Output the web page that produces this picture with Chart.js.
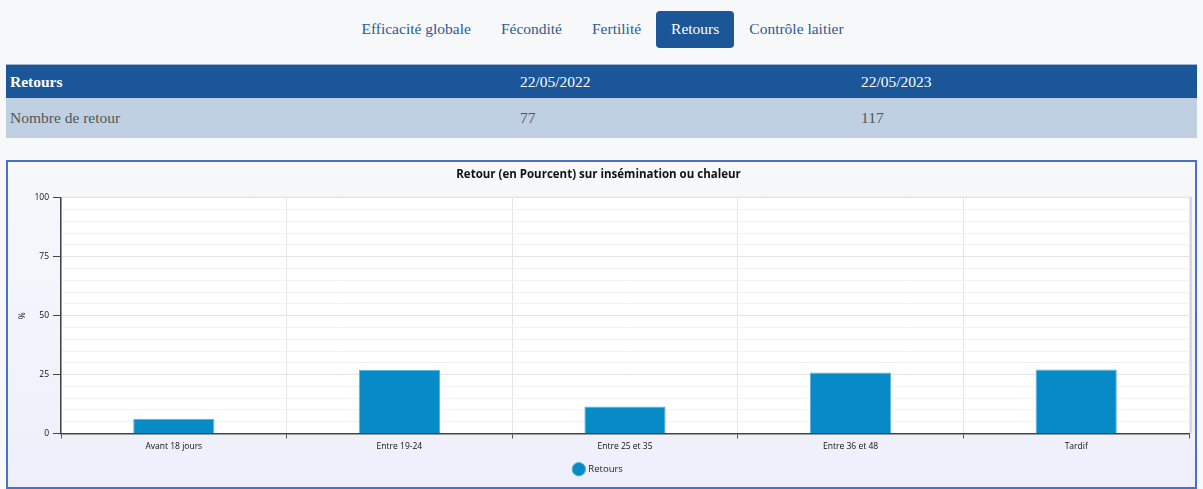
<!DOCTYPE html>
<html lang="fr">
<head>
<meta charset="utf-8">
<script src="https://cdn.jsdelivr.net/npm/chart.js@4.4.0/dist/chart.umd.min.js"></script>
<style>
    body {
        margin: 0;
        background: #f7f8fa;
        font-family: 'Liberation Serif', 'Times New Roman', serif;
        width: 1203px;
        height: 489px;
        overflow: hidden;
        position: relative;
    }
    .tabs {
        position: absolute;
        top: 11px;
        left: 1px;
        width: 1203px;
        text-align: center;
        font-size: 15.5px;
    }
    .tabs span {
        display: inline-block;
        padding: 0 15px;
        height: 37px;
        line-height: 36px;
        color: #2a5a95;
        border-radius: 4px;
    }
    .tabs span.active {
        background: #1a5698;
        color: #fff;
    }
    table {
        position: absolute;
        left: 6px;
        top: 64px;
        width: 1191px;
        border-collapse: collapse;
        font-size: 15.5px;
    }
    th, td {
        text-align: left;
        padding: 0 4px;
    }
    th {
        background: #1a5698;
        color: #fff;
        height: 33px;
        font-weight: normal;
        border-top: 1px solid #9fb4cf;
    }
    th.first { font-weight: bold; }
    td {
        background: #c0d0e3;
        color: #555;
        height: 40px;
    }
    .chart-box {
        position: absolute;
        left: 6px;
        top: 160px;
        width: 1187px;
        height: 325px;
        border: 2px solid #4a6fc4;
        background: linear-gradient(#f7f8fb, #efeffb);
    }
    .chart-box canvas {
        position: absolute;
        left: 0;
        top: 0;
    }
</style>
</head>
<body>

<div class="tabs">
    <span>Efficacité globale</span><span>Fécondité</span><span>Fertilité</span><span class="active">Retours</span><span>Contrôle laitier</span>
</div>

<table>
    <tr><th class="first" style="width:502px">Retours</th><th style="width:333px">22/05/2022</th><th>22/05/2023</th></tr>
    <tr><td>Nombre de retour</td><td>77</td><td>117</td></tr>
</table>

<div class="chart-box">
    <canvas id="retourChart" width="1187" height="325"></canvas>
</div>

<script>
// Données du graphique
const categories = ['Avant 18 jours', 'Entre 19-24', 'Entre 25 et 35', 'Entre 36 et 48', 'Tardif'];
const retours = [6.1, 27.0, 11.5, 25.9, 27.2];
const yTicksMajor = [0, 25, 50, 75, 100];

const fontChart = "'Open Sans', 'DejaVu Sans', sans-serif";

// Fond blanc de la zone de tracé
const plotBackground = {
    id: 'plotBackground',
    beforeDraw(chart) {
        const { ctx, chartArea: a } = chart;
        ctx.save();
        ctx.fillStyle = '#d8d8d8';
        ctx.fillRect(a.left, a.top - 1, a.right - a.left + 3, a.bottom - a.top + 1);
        ctx.fillStyle = '#ffffff';
        ctx.fillRect(a.left, a.top, a.right - a.left, a.bottom - a.top);
        ctx.restore();
    }
};

const config = {
    type: 'bar',
    data: {
        labels: categories,
        datasets: [{
            label: 'Retours',
            data: retours,
            backgroundColor: '#068bc7',
            borderColor: '#5fb2dc',
            borderWidth: 1,
            barPercentage: 0.36,
            categoryPercentage: 1
        }]
    },
    options: {
        responsive: false,
        animation: false,
        layout: {
            padding: { left: 0, right: 6, top: 0, bottom: 3 }
        },
        plugins: {
            title: {
                display: true,
                text: 'Retour (en Pourcent) sur insémination ou chaleur',
                color: '#111',
                font: { family: fontChart, size: 11.5, weight: 'bold' },
                padding: { top: 6, bottom: 16 }
            },
            legend: {
                position: 'bottom',
                labels: {
                    usePointStyle: true,
                    pointStyle: 'circle',
                    boxWidth: 10,
                    boxHeight: 10,
                    color: '#222',
                    font: { family: fontChart, size: 9.5 },
                    padding: 9
                }
            },
            tooltip: { enabled: false }
        },
        scales: {
            x: {
                grid: {
                    offset: true,
                    color: '#e6e6e6',
                    tickColor: '#555',
                    tickLength: 5
                },
                border: { color: '#444', width: 1.5 },
                ticks: {
                    color: '#111',
                    font: { family: fontChart, size: 8.5 },
                    padding: 3
                },
                afterFit(scale) { scale.height = 22; }
            },
            y: {
                min: 0,
                max: 100,
                grid: {
                    color: ctx => yTicksMajor.includes(ctx.tick.value) ? '#e4e4e4' : '#f2f2f2',
                    tickColor: ctx => yTicksMajor.includes(ctx.tick.value) ? '#444' : 'rgba(0,0,0,0)',
                    tickLength: 8
                },
                border: { color: '#444', width: 1.5 },
                ticks: {
                    stepSize: 5,
                    autoSkip: false,
                    color: '#111',
                    font: { family: fontChart, size: 8.5 },
                    padding: 4,
                    callback: value => yTicksMajor.includes(value) ? value : ''
                },
                title: {
                    display: true,
                    text: '%',
                    color: '#111',
                    font: { family: fontChart, size: 8.5 },
                    padding: { top: 9, bottom: 0 }
                },
                afterFit(scale) { scale.width = 53; }
            }
        }
    },
    plugins: [plotBackground]
};

const retourChart = new Chart(document.getElementById('retourChart'), config);
</script>
</body>
</html>
